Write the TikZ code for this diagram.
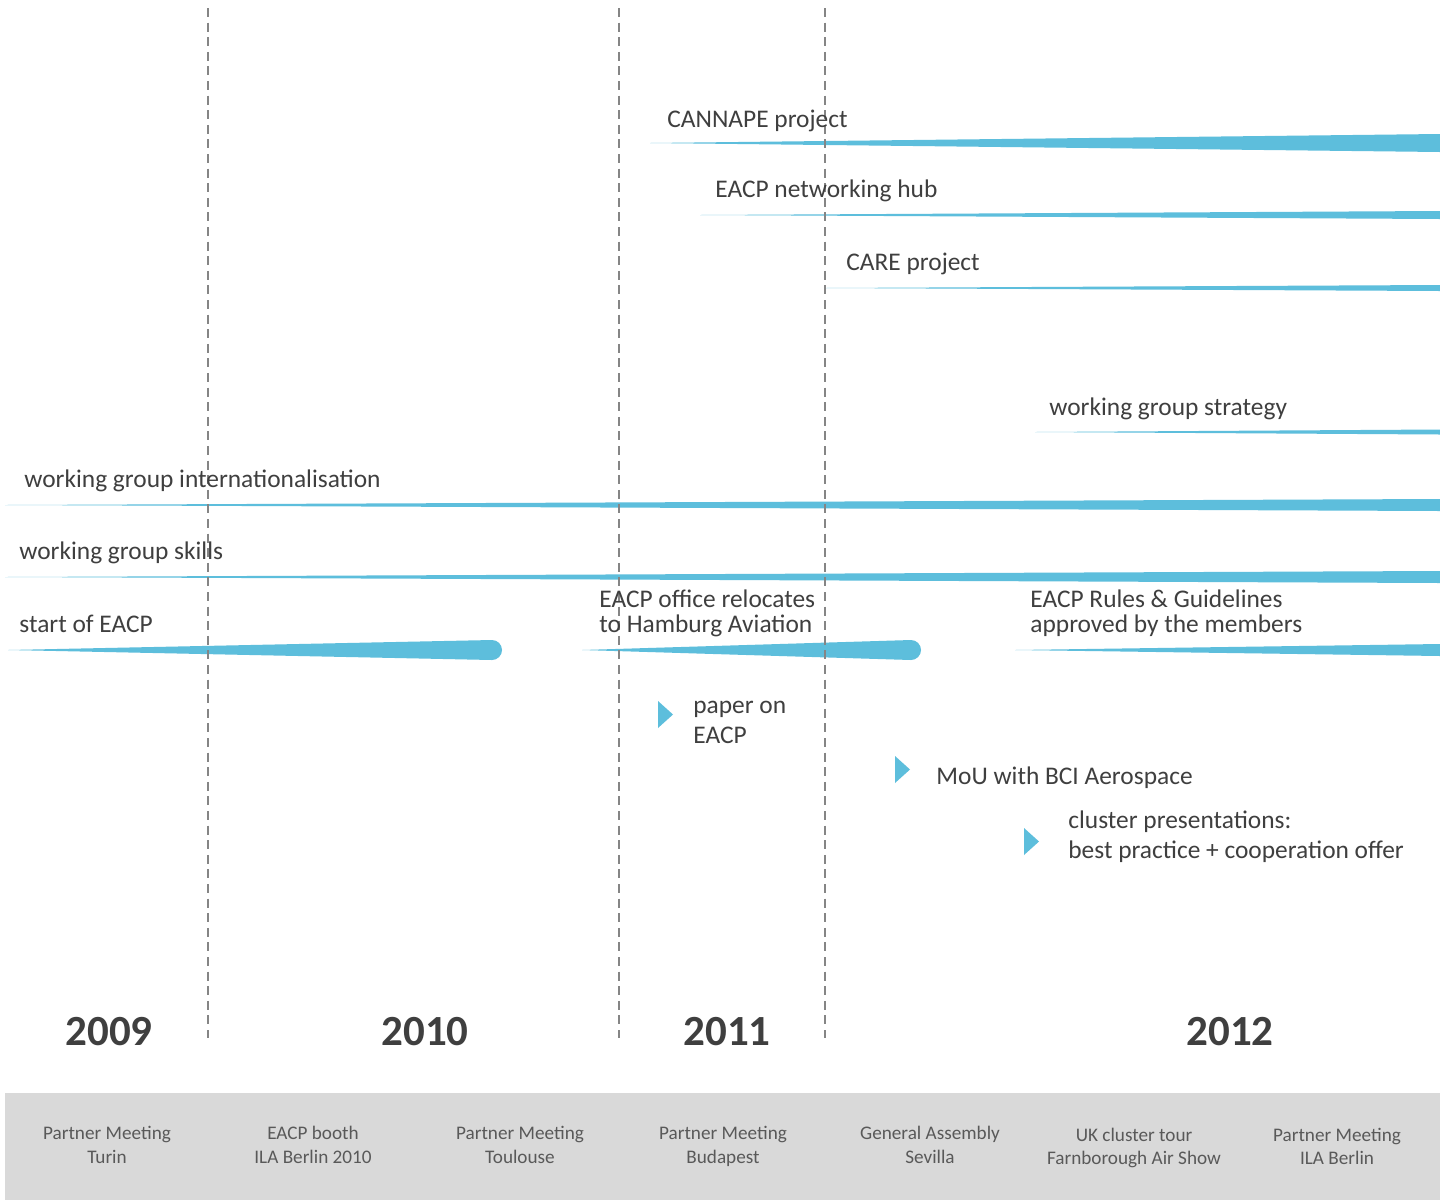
\documentclass[tikz,border=0pt]{standalone}
\usepackage{fontspec}
\setmainfont{Carlito}
\definecolor{bl}{HTML}{5DBEDC}
\definecolor{txt}{HTML}{3F3F3F}
\definecolor{ltxt}{HTML}{595959}
\definecolor{dashc}{HTML}{858585}
\definecolor{band}{HTML}{D9D9D9}
\newcommand\wbar[4]{\fill[bl] (#1,#2) -- ({#3},{#2-#4}) -- ({#3},{#2+#4}) -- cycle;}
\newcommand\rbar[4]{\fill[bl] (#1,#2) -- ({#3},{#2-#4}) arc[start angle=-90,end angle=90,radius=#4] -- cycle;}
\newcommand\mytri[2]{\fill[bl] (#1,#2) -- ({#1+15},{#2+13.5}) -- (#1,{#2+27}) -- cycle;}
\begin{document}
\begin{tikzpicture}[x=0.5pt,y=-0.5pt,
 lbl/.style={anchor=base west, inner sep=0, text=txt, font=\fontsize{12.7}{15}\selectfont},
 yr/.style={anchor=base, inner sep=0, text=txt, font=\fontsize{21.5}{24}\selectfont\bfseries},
 ev/.style={anchor=base, inner sep=0, text=ltxt, font=\fontsize{9.6}{12}\selectfont},
 yearline/.style={draw=dashc, line width=1.1pt, dash pattern=on 4.5pt off 2.8pt}
]
\useasboundingbox (0,0) rectangle (1440,1200);
\fill[white] (0,0) rectangle (1440,1200);

% bars
\wbar{650}{143}{1440}{9}
\wbar{700}{215}{1440}{4}
\wbar{825}{288}{1440}{3}
\wbar{1035}{432}{1440}{2.5}
\wbar{5}{505}{1440}{6}
\wbar{5}{577}{1440}{6}
\rbar{8}{650}{492}{10}
\rbar{582}{650}{911}{10}
\wbar{1015}{650}{1440}{6}

% year separators
\coordinate (s1t) at (208,8);   \coordinate (s1b) at (208,1038);
\coordinate (s2t) at (619,8);   \coordinate (s2b) at (619,1038);
\coordinate (s3t) at (825,8);   \coordinate (s3b) at (825,1038);
\draw[yearline] (s1t) -- (s1b);
\draw[yearline] (s2t) -- (s2b);
\draw[yearline] (s3t) -- (s3b);

% triangles
\mytri{658}{701}
\mytri{895}{756}
\mytri{1024}{828}

% labels
\node[lbl] (cannape) at (667,127) {CANNAPE project};
\node[lbl] (hub) at (715,197) {EACP networking hub};
\node[lbl] (care) at (846,270) {CARE project};
\node[lbl] (strat) at (1049,415) {working group strategy};
\node[lbl] (intl) at (24,487) {working group internationalisation};
\node[lbl] (skills) at (19,559) {working group skills};
\node[lbl] (start) at (19,632) {start of EACP};
\node[lbl] (reloc1) at (599,607) {EACP office relocates};
\node[lbl] (reloc2) at (599,632) {to Hamburg Aviation};
\node[lbl] (rules1) at (1030,607) {EACP Rules \& Guidelines};
\node[lbl] (rules2) at (1030,632) {approved by the members};
\node[lbl] (paper1) at (693,713) {paper on};
\node[lbl] (paper2) at (693,743) {EACP};
\node[lbl] (mou) at (936,784) {MoU with BCI Aerospace};
\node[lbl] (clus1) at (1068,828) {cluster presentations:};
\node[lbl] (clus2) at (1068,858) {best practice + cooperation offer};

% years
\node[yr] (y2009) at (109,1045) {2009};
\node[yr] (y2010) at (425,1045) {2010};
\node[yr] (y2011) at (727,1045) {2011};
\node[yr] (y2012) at (1230,1045) {2012};

% bottom band
\fill[band] (5,1093) rectangle (1440,1200);
\node[ev] (e1a) at (107,1139) {Partner Meeting};
\node[ev] (e1b) at (107,1163) {Turin};
\node[ev] (e2a) at (313,1139) {EACP booth};
\node[ev] (e2b) at (313,1163) {ILA Berlin 2010};
\node[ev] (e3a) at (520,1139) {Partner Meeting};
\node[ev] (e3b) at (520,1163) {Toulouse};
\node[ev] (e4a) at (723,1139) {Partner Meeting};
\node[ev] (e4b) at (723,1163) {Budapest};
\node[ev] (e5a) at (930,1139) {General Assembly};
\node[ev] (e5b) at (930,1163) {Sevilla};
\node[ev] (e6a) at (1134,1141) {UK cluster tour};
\node[ev] (e6b) at (1134,1164) {Farnborough Air Show};
\node[ev] (e7a) at (1337,1141) {Partner Meeting};
\node[ev] (e7b) at (1337,1164) {ILA Berlin};
\end{tikzpicture}
\end{document}
